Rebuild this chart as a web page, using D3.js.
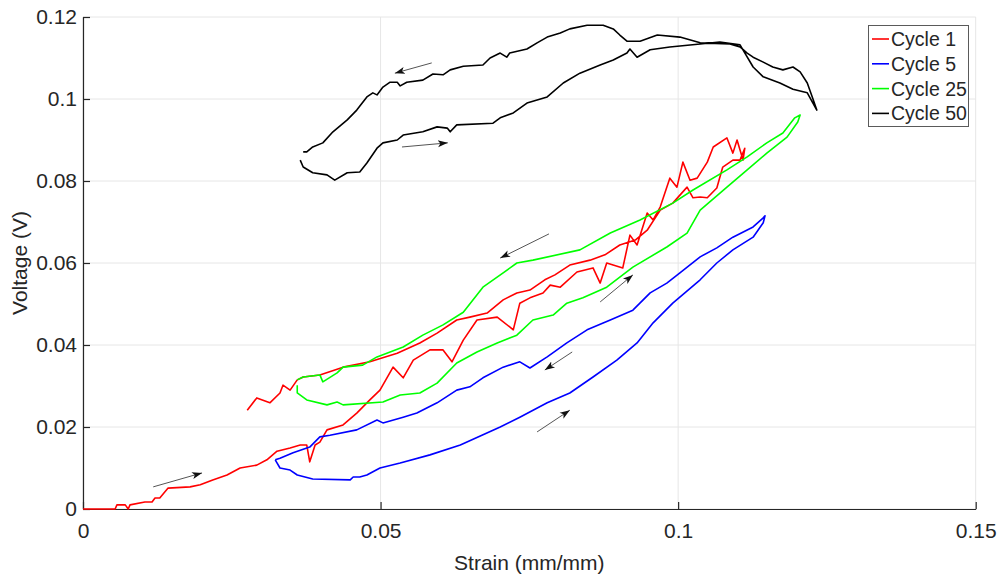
<!DOCTYPE html>
<html><head><meta charset="utf-8">
<script src="https://cdn.jsdelivr.net/npm/d3@7/dist/d3.min.js"></script>
<style>
html,body{margin:0;padding:0;background:#fff;}
svg text{font-family:"Liberation Sans",Arial,sans-serif;fill:#262626;}
</style></head>
<body><svg id="c" width="1004" height="576"></svg>
<script>
// ---- data (strain mm/mm, voltage V) ----
const seriesNames = ["Cycle 1","Cycle 5","Cycle 25","Cycle 50"];
const seriesColors = ["#ff0000","#0000ff","#00ff00","#000000"];
const xTicks = [0,0.05,0.1,0.15];
const xTickLabels = ["0","0.05","0.1","0.15"];
const yTicks = [0,0.02,0.04,0.06,0.08,0.1,0.12];
const yTickLabels = ["0","0.02","0.04","0.06","0.08","0.1","0.12"];

const cycle1Strain = [0,0.0054,0.0057,0.0071,0.0076,0.0079,0.0104,0.0116,0.0121,0.0129,0.0143,0.0180,0.0197,0.0218,0.0242,0.0264,0.0292,0.0309,0.0326,0.0348,0.0365,0.0376,0.0381,0.0390,0.0398,0.0410,0.0437,0.0460,0.0482,0.0499,0.0521,0.0538,0.0555,0.0583,0.0605,0.0620,0.0639,0.0662,0.0696,0.0717,0.0723,0.0734,0.0751,0.0773,0.0785,0.0802,0.0830,0.0857,0.0869,0.0880,0.0907,0.0919,0.0931,0.0948,0.0958,0.0970,0.0986,0.0998,0.1008,0.1020,0.1032,0.1049,0.1059,0.1082,0.1092,0.1099,0.1109,0.1112,
  0.1104,0.1092,0.1075,0.1065,0.1049,0.1037,0.1025,0.1015,0.0991,0.0970,0.0948,0.0928,0.0902,0.0877,0.0852,0.0818,0.0793,0.0776,0.0751,0.0729,0.0706,0.0679,0.0650,0.0628,0.0595,0.0566,0.0528,0.0482,0.0437,0.0398,0.0370,0.0360,0.0348,0.0336,0.0331,0.0314,0.0292,0.0276];
const cycle1Voltage = [0,0,0.0010,0.0010,0,0.0010,0.0017,0.0017,0.0027,0.0027,0.0051,0.0054,0.0059,0.0071,0.0083,0.0100,0.0107,0.0120,0.0141,0.0149,0.0156,0.0156,0.0115,0.0156,0.0163,0.0193,0.0205,0.0234,0.0266,0.0290,0.0346,0.0320,0.0363,0.0388,0.0388,0.0359,0.0412,0.0461,0.0468,0.0444,0.0437,0.0502,0.0515,0.0527,0.0546,0.0541,0.0578,0.0588,0.0551,0.0600,0.0588,0.0668,0.0644,0.0722,0.0705,0.0737,0.0807,0.0785,0.0846,0.0802,0.0807,0.0846,0.0883,0.0905,0.0868,0.0900,0.0851,0.0880,
  0.0851,0.0851,0.0834,0.0783,0.0759,0.0761,0.0759,0.0785,0.0746,0.0729,0.0680,0.0656,0.0644,0.0620,0.0607,0.0595,0.0571,0.0559,0.0534,0.0527,0.0510,0.0478,0.0468,0.0461,0.0429,0.0405,0.0380,0.0359,0.0346,0.0327,0.0322,0.0315,0.0290,0.0302,0.0283,0.0259,0.0271,0.0241];

const cycle5Strain = [0.0323,0.0331,0.0348,0.0360,0.0386,0.0449,0.0454,0.0465,0.0477,0.0499,0.0533,0.0583,0.0634,0.0701,0.0734,0.0780,0.0818,0.0857,0.0897,0.0931,0.0958,0.0991,0.1037,0.1065,0.1092,0.1126,0.1143,0.1146,
  0.1143,0.1126,0.1092,0.1065,0.1037,0.1003,0.0981,0.0953,0.0924,0.0886,0.0847,0.0813,0.0780,0.0751,0.0734,0.0706,0.0672,0.0650,0.0628,0.0595,0.0561,0.0538,0.0504,0.0494,0.0460,0.0415,0.0398,0.0381,0.0353,0.0331,0.0323];
const cycle5Voltage = [0.0120,0.0100,0.0095,0.0083,0.0073,0.0071,0.0078,0.0078,0.0083,0.0100,0.0112,0.0132,0.0156,0.0200,0.0224,0.0259,0.0283,0.0322,0.0363,0.0405,0.0454,0.0502,0.0559,0.0600,0.0632,0.0663,0.0698,0.0715,
  0.0710,0.0688,0.0663,0.0637,0.0615,0.0576,0.0551,0.0527,0.0485,0.0461,0.0437,0.0405,0.0371,0.0344,0.0359,0.0346,0.0320,0.0298,0.0290,0.0259,0.0234,0.0224,0.0210,0.0217,0.0193,0.0180,0.0176,0.0151,0.0137,0.0124,0.0120];

const cycle25Strain = [0.0360,0.0360,0.0376,0.0410,0.0427,0.0437,0.0504,0.0533,0.0566,0.0595,0.0628,0.0662,0.0696,0.0729,0.0756,0.0790,0.0813,0.0840,0.0880,0.0924,0.0981,0.1015,0.1037,0.1082,0.1116,0.1149,0.1183,0.1201,0.1205,
  0.1196,0.1176,0.1149,0.1116,0.1082,0.1025,0.0991,0.0936,0.0886,0.0835,0.0756,0.0729,0.0706,0.0672,0.0639,0.0605,0.0571,0.0538,0.0494,0.0470,0.0437,0.0427,0.0403,0.0398,0.0370,0.0360];
const cycle25Voltage = [0.0302,0.0283,0.0266,0.0254,0.0261,0.0254,0.0261,0.0278,0.0283,0.0307,0.0356,0.0383,0.0405,0.0424,0.0461,0.0473,0.0502,0.0515,0.0541,0.0590,0.0639,0.0673,0.0729,0.0785,0.0827,0.0868,0.0907,0.0944,0.0961,
  0.0954,0.0917,0.0893,0.0859,0.0827,0.0778,0.0746,0.0705,0.0673,0.0632,0.0607,0.0600,0.0576,0.0541,0.0480,0.0449,0.0424,0.0395,0.0371,0.0351,0.0346,0.0332,0.0310,0.0327,0.0322,0.0315];

const cycle50Strain = [0.0365,0.0370,0.0386,0.0410,0.0423,0.0444,0.0465,0.0477,0.0494,0.0504,0.0528,0.0538,0.0571,0.0595,0.0612,0.0617,0.0628,0.0689,0.0701,0.0723,0.0746,0.0780,0.0807,0.0835,0.0869,0.0891,0.0914,0.0919,0.0931,0.0953,0.0986,0.1037,0.1070,0.1104,0.1126,0.1143,0.1171,0.1193,0.1217,0.1233,
  0.1227,0.1217,0.1205,0.1193,0.1176,0.1159,0.1143,0.1126,0.1116,0.1104,0.1087,0.1037,0.1003,0.0965,0.0936,0.0914,0.0902,0.0891,0.0874,0.0847,0.0818,0.0802,0.0780,0.0763,0.0746,0.0717,0.0712,0.0701,0.0684,0.0672,0.0639,0.0617,0.0605,0.0588,0.0571,0.0544,0.0533,0.0528,0.0516,0.0504,0.0494,0.0487,0.0477,0.0460,0.0444,0.0420,0.0403,0.0386,0.0376,0.0370];
const cycle50Voltage = [0.0851,0.0834,0.0820,0.0815,0.0802,0.0820,0.0822,0.0844,0.0880,0.0893,0.0900,0.0912,0.0920,0.0932,0.0929,0.0920,0.0937,0.0941,0.0954,0.0966,0.0990,0.1005,0.1039,0.1063,0.1083,0.1095,0.1112,0.1122,0.1102,0.1120,0.1127,0.1134,0.1139,0.1132,0.1078,0.1054,0.1039,0.1024,0.1015,0.0973,
  0.0998,0.1039,0.1066,0.1078,0.1071,0.1078,0.1090,0.1102,0.1112,0.1127,0.1134,0.1137,0.1151,0.1156,0.1141,0.1141,0.1156,0.1171,0.1180,0.1180,0.1171,0.1161,0.1151,0.1137,0.1122,0.1112,0.1102,0.1112,0.1100,0.1083,0.1080,0.1071,0.1059,0.1061,0.1046,0.1041,0.1032,0.1041,0.1041,0.1029,0.1010,0.1015,0.1005,0.0973,0.0949,0.0920,0.0893,0.0883,0.0871,0.0871];

// direction arrows in data units
const arrowStartStrain = [0.0118,0.0586,0.0536,0.0783,0.0869,0.0822,0.0763];
const arrowStartVoltage = [0.0054,0.1088,0.0883,0.0671,0.0505,0.0383,0.0188];
const arrowEndStrain = [0.0200,0.0524,0.0613,0.0701,0.0924,0.0776,0.0818];
const arrowEndVoltage = [0.0088,0.1063,0.0893,0.0612,0.0571,0.0339,0.0241];

const xLabel = "Strain (mm/mm)";
const yLabel = "Voltage (V)";

// ---- chart ----
const svg = d3.select("#c");
const L = 83, R = 975.7, T = 17, B = 509;
const x = d3.scaleLinear().domain([0,0.15]).range([L,R]);
const y = d3.scaleLinear().domain([0,0.12]).range([B,T]);
const FS = 21;

// grid
const grid = svg.append("g");
grid.selectAll(".gx").data(xTicks).join("line")
  .attr("x1",d=>x(d)).attr("x2",d=>x(d)).attr("y1",T).attr("y2",B)
  .attr("stroke","#e6e6e6").attr("stroke-width",1);
grid.selectAll(".gy").data(yTicks).join("line")
  .attr("x1",L).attr("x2",R).attr("y1",d=>y(d)).attr("y2",d=>y(d))
  .attr("stroke","#e6e6e6").attr("stroke-width",1);

// axes
const axColor = "#262626";
const xAxis = svg.append("g").attr("transform",`translate(0,${B})`)
  .call(d3.axisBottom(x).tickValues(xTicks).tickFormat((d,i)=>xTickLabels[i]).tickSizeInner(-7).tickSizeOuter(0));
const yAxis = svg.append("g").attr("transform",`translate(${L},0)`)
  .call(d3.axisLeft(y).tickValues(yTicks).tickFormat((d,i)=>yTickLabels[i]).tickSizeInner(-7).tickSizeOuter(0).tickPadding(7));
[xAxis,yAxis].forEach(a=>{
  a.select(".domain").attr("stroke",axColor).attr("stroke-width",1.2);
  a.selectAll(".tick line").attr("stroke",axColor).attr("stroke-width",1.2);
  a.selectAll(".tick text").attr("font-size",FS).attr("fill",axColor)
   .style("font-family","'Liberation Sans',Arial,sans-serif");
});
xAxis.selectAll(".tick text").attr("dy","0.71em").attr("y",14);
yAxis.selectAll(".tick text").attr("x",-6);

// data lines
const strains = [cycle1Strain,cycle5Strain,cycle25Strain,cycle50Strain];
const volts = [cycle1Voltage,cycle5Voltage,cycle25Voltage,cycle50Voltage];
const line = d3.line().x(d=>x(d[0])).y(d=>y(d[1]));
const defs = svg.append("defs");
defs.append("clipPath").attr("id","pc")
  .append("rect").attr("x",L).attr("y",T).attr("width",R-L).attr("height",B-T+2);
const linesG = svg.append("g").attr("clip-path","url(#pc)");
seriesNames.forEach((n,i)=>{
  const pts = strains[i].map((s,k)=>[s,volts[i][k]]);
  linesG.append("path").datum(pts).attr("d",line)
    .attr("fill","none").attr("stroke",seriesColors[i]).attr("stroke-width",1.6)
    .attr("stroke-linejoin","round");
});

// arrows
defs.append("marker").attr("id","ah")
  .attr("viewBox","0 0 10 10").attr("refX",10).attr("refY",5)
  .attr("markerWidth",10).attr("markerHeight",10).attr("markerUnits","userSpaceOnUse")
  .attr("orient","auto")
  .append("path").attr("d","M0,1.5 L10,5 L0,8.5 L2.5,5 Z").attr("fill","#111");
arrowStartStrain.forEach((s,i)=>{
  svg.append("line")
    .attr("x1",x(s)).attr("y1",y(arrowStartVoltage[i]))
    .attr("x2",x(arrowEndStrain[i])).attr("y2",y(arrowEndVoltage[i]))
    .attr("stroke","#555").attr("stroke-width",1)
    .attr("marker-end","url(#ah)");
});

// axis labels
svg.append("text").attr("x",(L+R)/2).attr("y",570).attr("text-anchor","middle")
  .attr("font-size",FS).text(xLabel);
svg.append("text").attr("transform",`translate(27,${(T+B)/2}) rotate(-90)`)
  .attr("text-anchor","middle").attr("font-size",FS).text(yLabel);

// legend
const lg = svg.append("g");
lg.append("rect").attr("x",868.5).attr("y",25.5).attr("width",100).attr("height",101)
  .attr("fill","#fff").attr("stroke","#5a5a5a").attr("stroke-width",1);
seriesNames.forEach((n,i)=>{
  const cy = 39 + i*24.8;
  lg.append("line").attr("x1",872).attr("x2",889).attr("y1",cy).attr("y2",cy)
    .attr("stroke",seriesColors[i]).attr("stroke-width",1.6);
  lg.append("text").attr("x",891).attr("y",cy).attr("dy","0.36em")
    .attr("font-size",19.5).text(n);
});
</script></body></html>
